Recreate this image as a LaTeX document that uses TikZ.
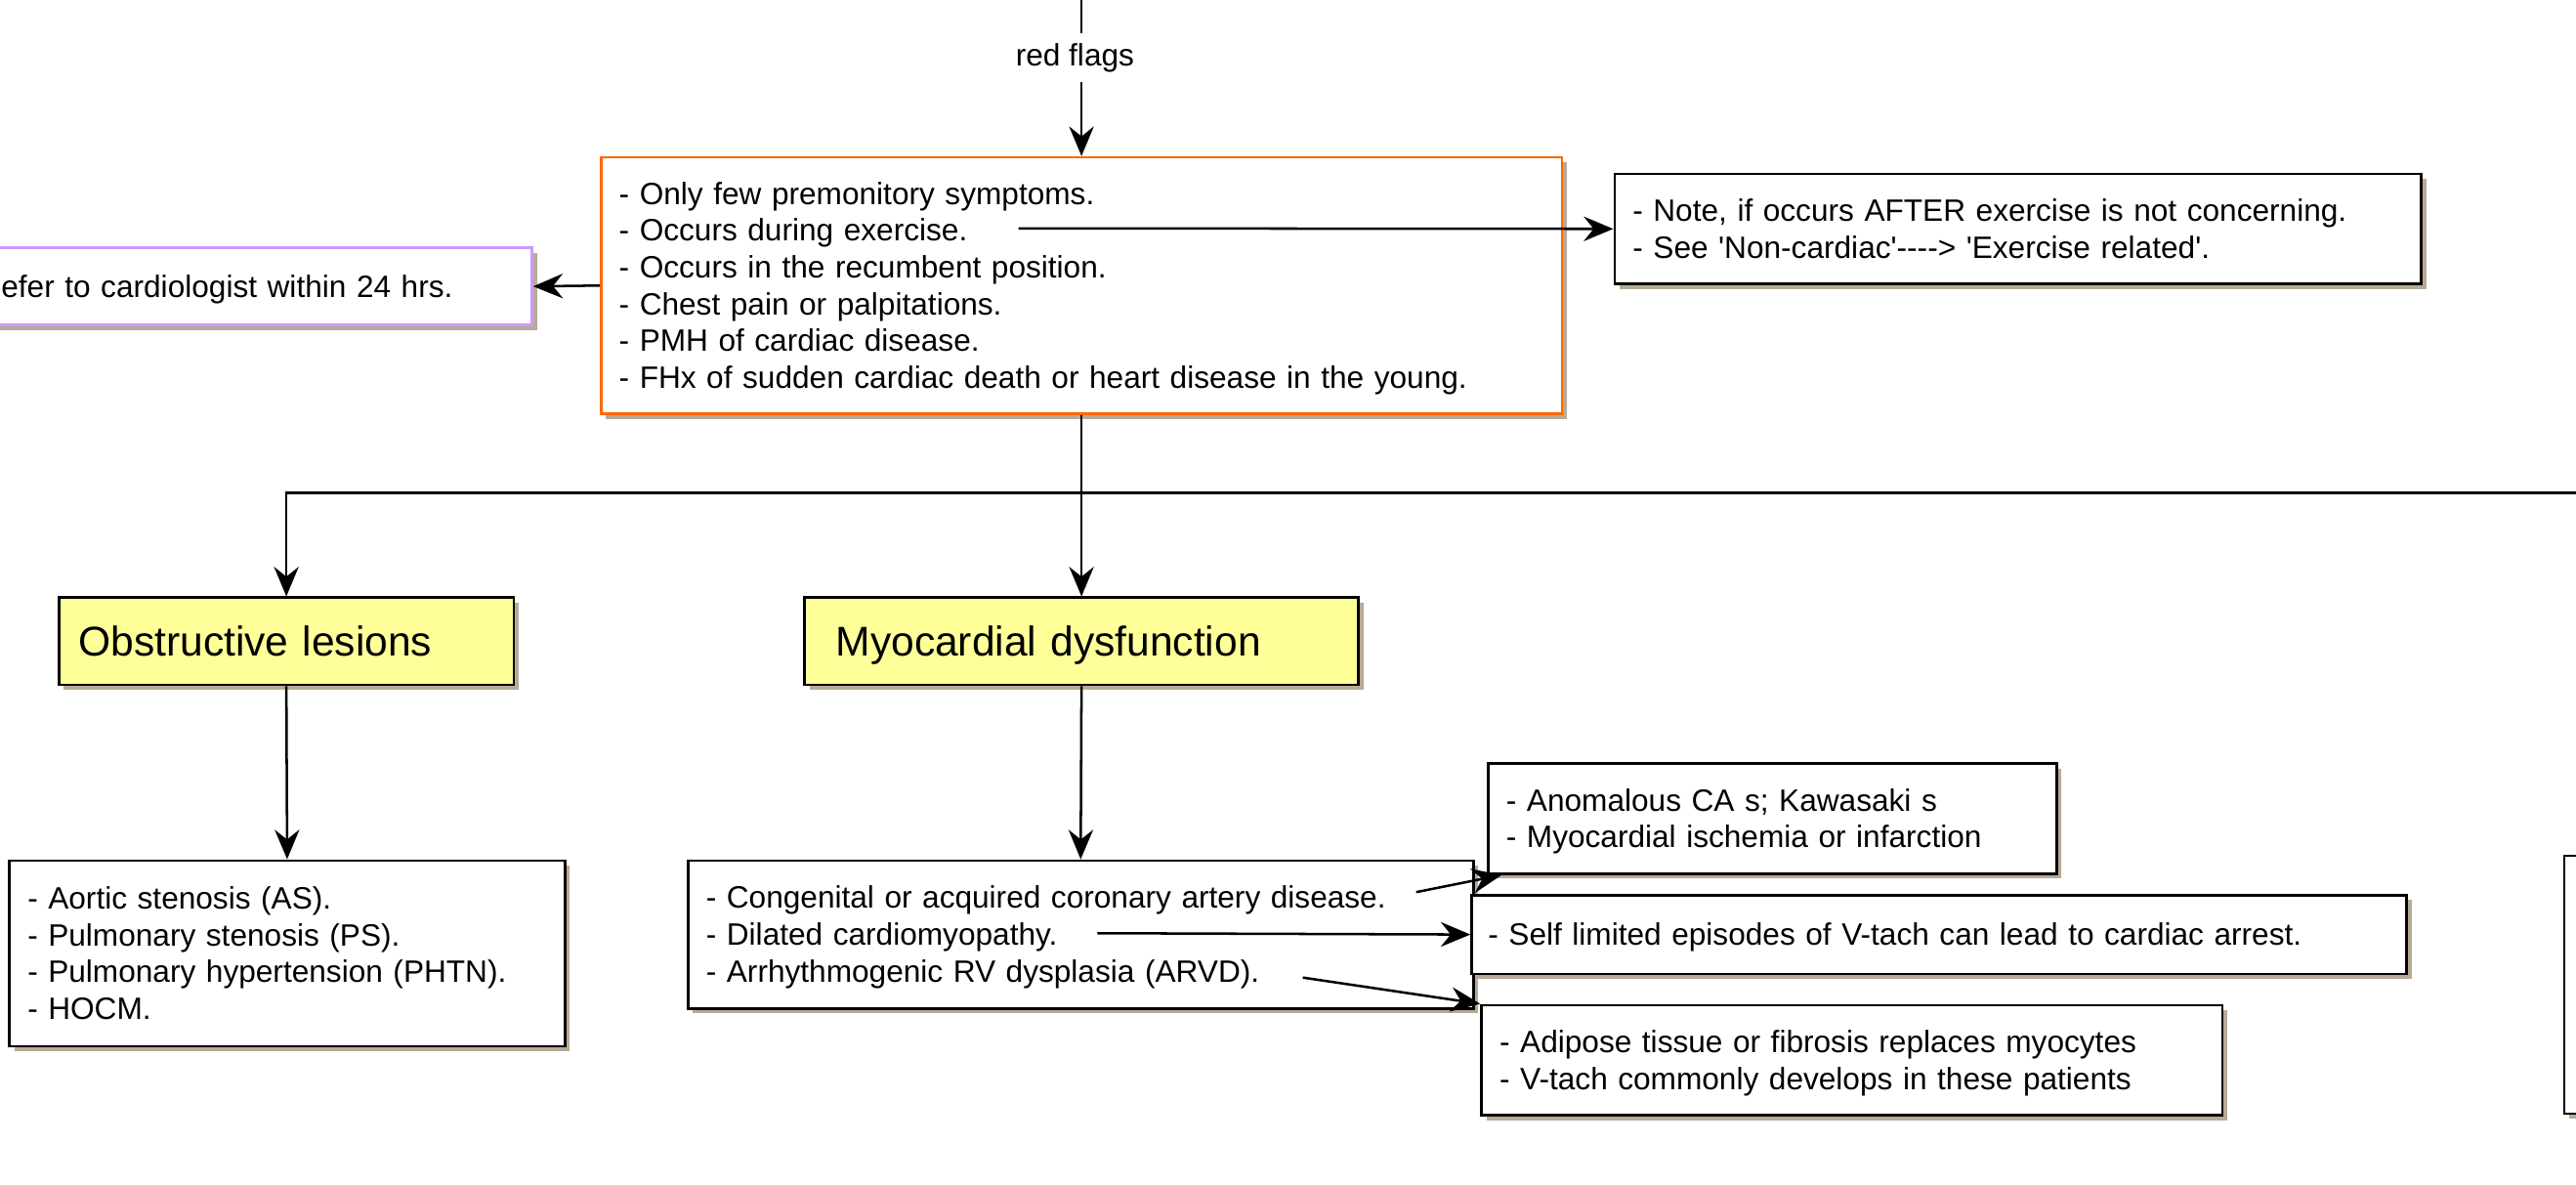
\documentclass[tikz,border=0pt]{standalone}
\usepackage{fontspec}
\setmainfont{Liberation Sans}[Ligatures=TeXOff]
\usetikzlibrary{arrows.meta,shadows}
\definecolor{orangec}{RGB}{255,102,0}
\definecolor{purplec}{RGB}{204,153,255}
\definecolor{yellowc}{RGB}{255,255,153}
\definecolor{shadowc}{RGB}{184,170,150}
\newcommand\bodyfs{\fontsize{18.8pt}{22.4pt}\selectfont}
\newcommand\headfs{\fontsize{25.3pt}{30pt}\selectfont}
\tikzset{
  box/.style={rectangle, draw=black, line width=1.6pt, fill=white, anchor=north west,
    align=left, inner ysep=0pt, font=\bodyfs,
    execute at begin node={\rule{0pt}{17pt}},
    execute at end node={\rule[-4pt]{0pt}{4pt}},
    drop shadow={shadow xshift=3pt, shadow yshift=-3pt, fill=shadowc, opacity=1}},
  hbox/.style={box, fill=yellowc, font=\headfs,
    execute at begin node={\rule{0pt}{22.9pt}},
    execute at end node={\rule[-5.4pt]{0pt}{5.4pt}}},
  arr/.style={line width=1.5pt, -{Stealth[length=18pt,width=15pt,inset=6pt]}},
  conn/.style={line width=1.5pt},
}
\begin{document}
\begin{tikzpicture}[x=1pt,y=-1pt]
\useasboundingbox (0,0) rectangle (1568,721);
\clip (0,0) rectangle (1568,721);
% main red flags box
\node[box, draw=orangec, minimum width=585pt, minimum height=156pt, text width=563pt, inner xsep=11pt] (orange) at (365,95)
 {- Only few premonitory symptoms.\\- Occurs during exercise.\\- Occurs in the recumbent position.\\- Chest pain or palpitations.\\- PMH of cardiac disease.\\- FHx of sudden cardiac death or heart disease in the young.};
\node[box, minimum width=491pt, minimum height=67pt, text width=469pt, inner xsep=11pt] (note) at (982,105)
 {- Note, if occurs AFTER exercise is not concerning.\\- See 'Non-cardiac'----> 'Exercise related'.};
\node[box, draw=purplec, minimum width=335pt, minimum height=47pt, text width=311pt, inner xsep=12pt] (refer) at (-12,150)
 {efer to cardiologist within 24 hrs.};
% headers
\node[hbox, minimum width=277pt, minimum height=53pt, text width=253pt, inner xsep=12pt] (obs) at (35,363) {Obstructive lesions};
\node[hbox, minimum width=337pt, minimum height=53pt, text width=299pt, inner xsep=19pt] (myo) at (489,363) {Myocardial dysfunction};
% lists
\node[box, minimum width=338pt, minimum height=113pt, text width=316pt, inner xsep=11pt] (obl) at (5,523)
 {- Aortic stenosis (AS).\\- Pulmonary stenosis (PS).\\- Pulmonary hypertension (PHTN).\\- HOCM.};
\node[box, minimum width=478pt, minimum height=90pt, text width=456pt, inner xsep=11pt] (myl) at (418,523)
 {- Congenital or acquired coronary artery disease.\\- Dilated cardiomyopathy.\\- Arrhythmogenic RV dysplasia (ARVD).};
\node[box, minimum width=346pt, minimum height=67pt, text width=324pt, inner xsep=11pt] (ano) at (905,464)
 {- Anomalous CA s; Kawasaki s\\- Myocardial ischemia or infarction};
\node[box, minimum width=569pt, minimum height=48pt, text width=549pt, inner xsep=10pt] (self) at (895,544)
 {- Self limited episodes of V-tach can lead to cardiac arrest.};
\node[box, minimum width=451pt, minimum height=67pt, text width=429pt, inner xsep=11pt] (adi) at (901,611)
 {- Adipose tissue or fibrosis replaces myocytes\\- V-tach commonly develops in these patients};
\node[box, minimum width=200pt, minimum height=157pt] (rbox) at (1560,520) {};
% connectors
\coordinate (top) at (orange.north |- 0,0);
\draw[arr] (top) -- node[pos=0.36, fill=white, font=\bodyfs, inner xsep=2pt, inner ysep=6pt, xshift=-4pt, yshift=-1pt] (rf) {red flags} (orange.north);
\draw[arr] (orange.west) -- (refer.east);
\coordinate (ns) at (620,139);
\draw[arr] (ns) -- (note.west);
\coordinate (j) at (orange.south |- 0,300);
\coordinate (jr) at (1600,300);
\draw[conn] (orange.south) -- (j);
\draw[arr] (jr) -| (obs.north);
\draw[arr] (j) -- (myo.north);
\draw[arr] (obs.south) -- (obl.north);
\draw[arr] (myo.south) -- (myl.north);
\coordinate (a1) at (862,543);
\draw[arr] (a1) -- ([xshift=9pt]ano.south west);
\coordinate (a2) at (668,568);
\draw[arr] (a2) -- (self.west);
\coordinate (a3) at (793,595);
\draw[arr] (a3) -- (adi.north west);
\end{tikzpicture}
\end{document}
